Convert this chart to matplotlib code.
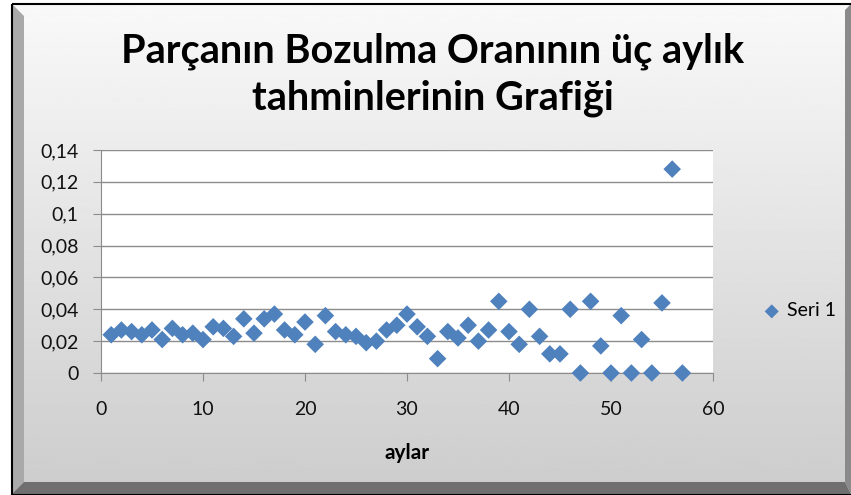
import numpy as np
import matplotlib.pyplot as plt
from matplotlib.patches import Rectangle, Polygon

# months (aylar) and three-month failure-rate estimates
aylar = list(range(1, 58))
oran = [0.024, 0.027, 0.026, 0.024, 0.027, 0.021, 0.028, 0.024, 0.025, 0.021,
        0.029, 0.028, 0.023, 0.034, 0.025, 0.034, 0.037, 0.027, 0.024, 0.032,
        0.018, 0.036, 0.026, 0.024, 0.023, 0.019, 0.020, 0.027, 0.030, 0.037,
        0.029, 0.023, 0.009, 0.026, 0.022, 0.030, 0.020, 0.027, 0.045, 0.026,
        0.018, 0.040, 0.023, 0.012, 0.012, 0.040, 0.000, 0.045, 0.017, 0.000,
        0.036, 0.000, 0.021, 0.000, 0.044, 0.128, 0.000]
x_ticks = [0, 10, 20, 30, 40, 50, 60]
y_ticks = [0, 0.02, 0.04, 0.06, 0.08, 0.1, 0.12, 0.14]
y_labels = ["0", "0,02", "0,04", "0,06", "0,08", "0,1", "0,12", "0,14"]

W, H = 851, 495
plt.rcParams['font.family'] = ['Lato', 'DejaVu Sans']
fig = plt.figure(figsize=(W / 100, H / 100), dpi=100)
fig.patch.set_facecolor('white')

# background frame with vertical gradient and bevel
bg = fig.add_axes([0, 0, 1, 1], zorder=-10)
bg.set_xlim(0, W)
bg.set_ylim(H, 0)
bg.axis('off')
grad = np.linspace(0.975, 0.80, 256).reshape(-1, 1)
bg.imshow(grad, cmap='gray', vmin=0, vmax=1, extent=[12, W, 494, 4], aspect='auto')
bg.add_patch(Polygon([[12, 4], [24, 16], [24, 482], [12, 494]], closed=True,
                     facecolor='#a9a9a9', edgecolor='none'))
bg.add_patch(Polygon([[12, 494], [24, 482], [845, 482], [851, 494]], closed=True,
                     facecolor='#6f6f6f', edgecolor='none'))
bg.add_patch(Polygon([[845, 10], [851, 4], [851, 494], [845, 482]], closed=True,
                     facecolor='#8a8a8a', edgecolor='none'))
bg.add_patch(Rectangle((11.5, 3.5), W, 491, fill=False, edgecolor='black', lw=1.5))

ax = fig.add_axes([101 / W, 1 - 373 / H, 612 / W, 223 / H])
ax.set_facecolor('white')
ax.scatter(aylar, oran, marker='D', s=80, color='#4f81bd', edgecolors='none',
           zorder=3, clip_on=False, label='Seri 1')

ax.set_xlim(0, 60)
ax.set_ylim(0, 0.14)
ax.set_xticks(x_ticks)
ax.set_yticks(y_ticks)
ax.set_yticklabels(y_labels)
ax.grid(axis='y', color='#8c8c8c', lw=1)
ax.set_axisbelow(True)
for side in ['top', 'right']:
    ax.spines[side].set_visible(False)
for side in ['left', 'bottom']:
    ax.spines[side].set_color('#8c8c8c')
ax.tick_params(axis='both', direction='out', length=6, color='#8c8c8c',
               labelsize=14, labelcolor='#111111')
ax.tick_params(axis='y', pad=10)
ax.tick_params(axis='x', pad=14)

ax.set_xlabel('aylar', fontsize=15, fontweight='bold', labelpad=18)

fig.text(433 / W, 1 - 75 / H, 'Parçanın Bozulma Oranının üç aylık\ntahminlerinin Grafiği',
         ha='center', va='center', fontsize=28.5, fontweight='bold',
         linespacing=1.32, color='black')

fig.legend(loc='center left', bbox_to_anchor=(762 / W, 1 - 311 / H), frameon=False,
           fontsize=14, handlelength=1.0, handletextpad=0.3, borderpad=0,
           borderaxespad=0, markerscale=0.8)

fig.savefig('out.png', dpi=100)
